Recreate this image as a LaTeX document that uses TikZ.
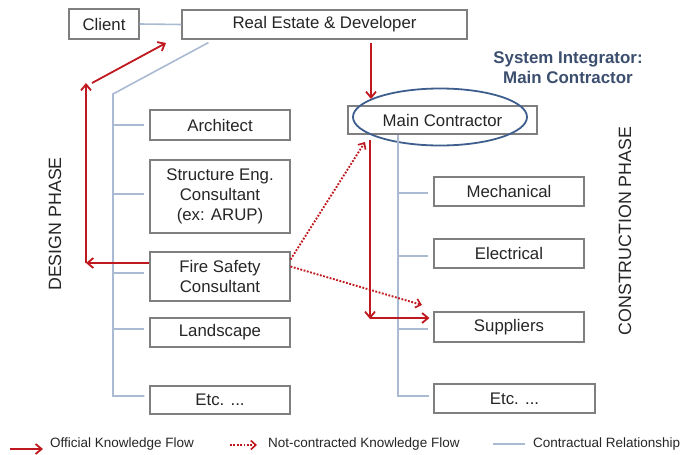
\documentclass[tikz,border=0pt]{standalone}
\usepackage{fontspec}
\setmainfont{Liberation Sans}
\usetikzlibrary{arrows.meta,shapes.geometric,calc}
\definecolor{kred}{HTML}{C0181F}
\definecolor{cline}{HTML}{A9BAD2}
\definecolor{bgrey}{HTML}{7F7F7F}
\definecolor{ellc}{HTML}{3E5F8E}
\definecolor{titc}{HTML}{3B4E6E}
\definecolor{txt}{HTML}{262626}
\begin{document}
\begin{tikzpicture}[x=1pt,y=-1pt,
  box/.style={draw=bgrey,line width=1.1pt,fill=white,inner sep=1pt,align=center,
    text=txt,font=\fontsize{16.8}{20}\selectfont},
  contract/.style={draw=cline,line width=1.6pt},
  official/.style={draw=kred,line width=1.8pt,-{Straight Barb[length=6pt,width=10pt,line width=1.8pt]}},
  informal/.style={draw=kred,line width=1.9pt,dash pattern=on 1.8pt off 1.6pt,-{Straight Barb[length=5pt,width=9pt,line width=1.6pt]}},
  legtext/.style={anchor=west,text=txt,font=\fontsize{13.5}{15}\selectfont,inner sep=0pt},
  phase/.style={text=txt,font=\fontsize{17.8}{20}\selectfont,rotate=90}
]
\useasboundingbox (0,0) rectangle (694,455);
% boxes
\node[box,minimum width=70pt,minimum height=30pt] (client) at (104,24) {Client};
\node[box,minimum width=285pt,minimum height=29pt] (re) at (324.5,24.5) {Real Estate \& Developer};
\node[box,minimum width=140pt,minimum height=30pt] (arch) at (220,125) {Architect};
\node[box,minimum width=140pt,minimum height=73pt] (struct) at (220,196.5) {Structure Eng.\\Consultant\\(ex: ARUP)};
\node[box,minimum width=140pt,minimum height=49pt] (fire) at (220,276.5) {Fire Safety\\Consultant};
\node[box,minimum width=140pt,minimum height=29pt] (land) at (220,332.5) {Landscape};
\node[box,minimum width=140pt,minimum height=28pt] (etcl) at (220,400) {Etc. ...};
\node[box,minimum width=189pt,minimum height=28pt] (mc) at (442.5,120) {Main Contractor};
\node[box,minimum width=150pt,minimum height=29pt] (mech) at (509,191.5) {Mechanical};
\node[box,minimum width=150pt,minimum height=29pt] (elec) at (509,253.5) {Electrical};
\node[box,minimum width=150pt,minimum height=30pt] (supp) at (509,327) {Suppliers};
\node[box,minimum width=161pt,minimum height=29pt] (etcr) at (514.5,398.5) {Etc. ...};
% ellipse
\node[ellipse,draw=ellc,line width=1.8pt,minimum width=174pt,minimum height=57pt,inner sep=0pt] (ell) at (440,117) {};
% title
\node[align=center,text=titc,font=\bfseries\fontsize{16.9}{20}\selectfont] (title) at (568,68) {System Integrator:\\Main Contractor};
% phase labels
\node[phase] (dphase) at (55,224) {DESIGN PHASE};
\node[phase] (cphase) at (625,231) {CONSTRUCTION PHASE};
% contractual relationships
\coordinate (lt) at (113,94);
\coordinate (lb) at (113,396);
\coordinate (rb) at (398,396);
\draw[contract] (client.east) -- (re.west);
\draw[contract] ($(re.south west)+(27,3)$) -- (lt) -- (lb) -- ([xshift=-5pt]etcl.west |- lb);
\draw[contract] (lt |- arch.west) -- ([xshift=-5pt]arch.west);
\draw[contract] ([yshift=2.5pt]lt |- struct.west) -- ([xshift=-5pt,yshift=2.5pt]struct.west);
\draw[contract] ([yshift=3.5pt]lt |- fire.west) -- ([xshift=-5pt,yshift=3.5pt]fire.west);
\draw[contract] ([yshift=3.5pt]lt |- land.west) -- ([xshift=-5pt,yshift=3.5pt]land.west);
\draw[contract] (rb |- mc.south) -- (rb) -- ([xshift=-4pt]etcr.west |- rb);
\draw[contract] ([yshift=-1.5pt]rb |- mech.west) -- ([xshift=-5pt,yshift=-1.5pt]mech.west);
\draw[contract] ([yshift=-2.5pt]rb |- elec.west) -- ([xshift=-5pt,yshift=-2.5pt]elec.west);
\draw[contract] ([yshift=-2pt]rb |- supp.west) -- ([xshift=-5pt,yshift=-2pt]supp.west);
% official flows
\coordinate (c1) at (371,99);
\coordinate (c2) at (370,318);
\coordinate (c3) at (86,263);
\coordinate (c4) at (86,83);
\coordinate (c5) at (166,43);
\draw[official] ([yshift=-3pt]re.south -| c1) -- (c1);
\draw[official] ([yshift=-5pt]mc.south -| c2) -- ([yshift=-1pt]c2);
\draw[official] (c2) -- ([xshift=-4pt]supp.west |- c2);
\draw[official] (fire.west |- c3) -- (c3);
\draw[official] (c3) -- (c4);
\draw[official] ([xshift=6pt]c4) -- (c5);
% informal flows
\coordinate (d1) at (365,142);
\coordinate (d2) at (422,305);
\draw[informal] ([yshift=17pt]fire.east) -- (d1);
\draw[informal] ([yshift=10pt]fire.east) -- (d2);
% legend
\coordinate (l1a) at (10,449); \coordinate (l1b) at (43,449);
\coordinate (l2a) at (230,445); \coordinate (l2b) at (257,445);
\coordinate (l3a) at (493,444); \coordinate (l3b) at (525,444);
\draw[official] (l1a) -- (l1b);
\draw[informal] (l2a) -- (l2b);
\draw[contract] (l3a) -- (l3b);
\node[legtext] (lt1) at (50,444) {Official Knowledge Flow};
\node[legtext] (lt2) at (268,444) {Not-contracted Knowledge Flow};
\node[legtext] (lt3) at (533,444) {Contractual Relationship};
\end{tikzpicture}
\end{document}
